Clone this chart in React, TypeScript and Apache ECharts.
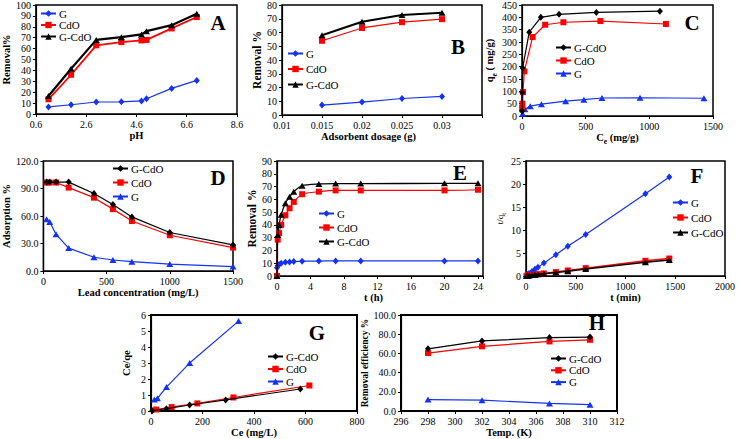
import React, { useEffect, useRef } from 'react';
import * as echarts from 'echarts';

// ---------- DATA ----------
// Panel A: effect of pH
const pHValues = [1.1, 2, 3, 4, 4.8, 5, 6, 7];
const A_G = [6.5, 8.5, 11, 11.2, 12, 14, 23.5, 30.8];
const A_CdO = [13.5, 36, 63, 66, 67.5, 68, 78.5, 89];
const A_GCdO = [16.5, 41.5, 68, 70.5, 73, 76, 81.5, 92];

// Panel B: adsorbent dosage
const dosage = [0.015, 0.02, 0.025, 0.03];
const B_G = [7.2, 9.4, 12, 13.5];
const B_CdO = [54, 63.3, 67.5, 69.7];
const B_GCdO = [58, 67.8, 72.8, 74.3];

// Panel C: isotherm qe vs Ce
const C_GCdO_x = [0.5, 2, 5, 57, 148, 291, 584, 1083];
const C_GCdO_y = [20, 95, 195, 340, 400, 412, 420, 425];
const C_CdO_x = [1, 3, 8, 18, 83, 182, 325, 616, 1130];
const C_CdO_y = [30, 50, 97, 181, 320, 370, 380, 385, 373];
const C_G_x = [5, 23, 65, 153, 343, 486, 628, 927, 1429];
const C_G_y = [9, 27, 40, 48, 60, 66, 73, 74, 72];

// Panel D: lead concentration
const leadConc = [25, 50, 100, 200, 400, 550, 700, 1000, 1500];
const D_GCdO = [97, 97, 97, 97, 84.5, 72.5, 59, 42, 28.5];
const D_CdO = [96.5, 96.5, 96.5, 91, 80, 67.5, 54.5, 39, 25.5];
const D_G = [56.5, 53.5, 40, 25, 15, 12, 10.2, 7.6, 4.8];

// Panel E: contact time (h)
const timeH = [0, 0.083, 0.25, 0.5, 1, 1.5, 2, 3, 5, 7, 10, 20, 24];
const E_G = [6.5, 8, 9, 10, 10.7, 11, 11.3, 11.6, 11.7, 11.8, 11.8, 11.8, 11.8];
const E_CdO = [0, 28.5, 33.5, 40, 47.5, 53, 58, 64, 66, 67, 67, 67, 67.5];
const E_GCdO = [0, 32, 40, 48, 57, 62, 66, 70.7, 72, 72.3, 72.3, 72.5, 72.5];

// Panel F: pseudo-second-order t/qt
const timeMin = [5, 15, 30, 60, 90, 120, 180, 300, 420, 600, 1200, 1440];
const F_G = [0.12, 0.3, 0.55, 1.0, 1.45, 1.9, 2.8, 4.6, 6.45, 9.0, 17.9, 21.5];
const F_CdO = [0.03, 0.07, 0.12, 0.22, 0.3, 0.4, 0.55, 0.85, 1.2, 1.7, 3.3, 3.8];
const F_GCdO = [0.03, 0.06, 0.1, 0.2, 0.28, 0.36, 0.5, 0.75, 1.05, 1.5, 3.0, 3.5];

// Panel G: Langmuir Ce/qe vs Ce
const G_GCdO_x = [5, 60, 150, 290, 580];
const G_GCdO_y = [0.02, 0.15, 0.38, 0.7, 1.38];
const G_CdO_x = [20, 80, 180, 320, 615];
const G_CdO_y = [0.1, 0.25, 0.48, 0.85, 1.6];
const G_G_x = [13, 25, 60, 150, 340];
const G_G_y = [0.72, 0.8, 1.5, 3.0, 5.62];

// Panel H: temperature
const temps = [298, 302, 307, 310];
const H_GCdO = [64.8, 73, 76.5, 77];
const H_CdO = [60.4, 67.4, 72.5, 74.2];
const H_G = [12, 11.4, 8, 6.7];

// ---------- STYLE / LAYOUT ----------
const FONT = '"Liberation Serif", "Times New Roman", serif';
const BLUE = '#1432f2';
const RED = '#ff0000';
const BLACK = '#000000';

const pair = (xs: number[], ys: number[]) => xs.map((x, i) => [x, ys[i]]);

type Kind = 'G' | 'CdO' | 'G-CdO';

const GRIDS = [
  { left: 32, top: 4, width: 205, height: 110, bw: 1.5 },   // A
  { left: 282, top: 4, width: 200, height: 111, bw: 1.5 },  // B
  { left: 522, top: 4, width: 191, height: 112, bw: 1.5 },  // C
  { left: 37, top: 161, width: 196, height: 110, bw: 1.5 }, // D
  { left: 277, top: 161, width: 206, height: 115, bw: 1.5 },// E
  { left: 526, top: 161, width: 203, height: 115, bw: 1.5 },// F
  { left: 151, top: 315, width: 206, height: 108, bw: 2 },  // G
  { left: 401, top: 315, width: 216, height: 99, bw: 2 },   // H
];

function series(panel: number, key: string, kind: Kind, data: number[][], opts: any = {}) {
  const shape = kind === 'G' ? opts.gSym : opts.gcdoSym;
  let symbol = 'rect';
  let symbolSize: any = 6;
  let color = RED;
  let width = opts.redW ?? 1.3;
  if (kind === 'G') {
    symbol = shape; color = BLUE; width = opts.blueW ?? 1;
  } else if (kind === 'G-CdO') {
    symbol = shape; color = BLACK; width = opts.blackW ?? 1.5;
  }
  if (symbol === 'diamond') symbolSize = [6, 7];
  if (symbol === 'triangle') symbolSize = [7, 6];
  if (symbol === 'rect') symbolSize = 6;
  return {
    type: 'line',
    name: key + '|' + kind,
    xAxisIndex: panel,
    yAxisIndex: panel,
    data,
    symbol,
    symbolSize,
    showSymbol: true,
    smooth: opts.smooth ? 0.25 : false,
    itemStyle: { color },
    lineStyle: { color, width },
    emphasis: { disabled: true },
    z: kind === 'G-CdO' ? 3 : kind === 'CdO' ? 2 : 1,
  };
}

function legend(key: string, kinds: Kind[], left: number, top: number, gap: number) {
  return {
    data: kinds.map((k) => key + '|' + k),
    orient: 'vertical',
    left,
    top,
    itemGap: gap,
    itemWidth: 15,
    itemHeight: 8,
    padding: 0,
    selectedMode: false,
    formatter: (n: string) => n.split('|')[1],
    textStyle: { fontFamily: FONT, fontSize: 11, color: '#000', lineHeight: 10, padding: [0, 0, 0, -2] },
  };
}

const plain = (v: number) => String(v);
const labelStyle = { fontFamily: FONT, fontSize: 10, color: '#000' };
const nameStyle = { fontFamily: FONT, fontSize: 10.5, fontWeight: 'bold', color: '#000' };
const lineCommon = { show: true, onZero: false, lineStyle: { color: '#000', width: 1.2 } };
const tickCommon = { show: true, inside: false, length: 3, lineStyle: { color: '#000', width: 1 } };

function xAxis(i: number, min: number, max: number, interval: number, name: any, nameGap: number, fmt: (v: number) => string = plain, extraName: any = {}) {
  return {
    type: 'value', gridIndex: i, min, max, interval,
    name, nameLocation: 'middle', nameGap,
    nameTextStyle: { ...nameStyle, ...extraName },
    axisLine: lineCommon, axisTick: tickCommon, splitLine: { show: false },
    axisLabel: { ...labelStyle, margin: 5, formatter: fmt, showMaxLabel: true, showMinLabel: true },
  };
}
function yAxis(i: number, min: number, max: number, interval: number, name: any, nameGap: number, fmt: (v: number) => string = plain, extraName: any = {}) {
  return {
    type: 'value', gridIndex: i, min, max, interval,
    name, nameLocation: 'middle', nameGap,
    nameTextStyle: { ...nameStyle, ...extraName },
    axisLine: lineCommon, axisTick: tickCommon, splitLine: { show: false },
    axisLabel: { ...labelStyle, margin: 5, formatter: fmt },
  };
}

const letters = [
  { t: 'A', x: 218, y: 23 },
  { t: 'B', x: 458, y: 47 },
  { t: 'C', x: 692, y: 23 },
  { t: 'D', x: 218, y: 178 },
  { t: 'E', x: 460, y: 173 },
  { t: 'F', x: 697, y: 176 },
  { t: 'G', x: 317, y: 333 },
  { t: 'H', x: 597, y: 323 },
];

export default function App() {
  const ref = useRef<HTMLDivElement>(null);
  useEffect(() => {
    if (!ref.current) return;
    const chart = echarts.init(ref.current, null, { renderer: 'svg' });
    const f1 = (v: number) => v.toFixed(1);
    const subRich = { sub: { fontFamily: FONT, fontSize: 7.5, fontWeight: 'bold', verticalAlign: 'bottom', padding: [0, 0, -3, 0] } };

    const option: any = {
      animation: false,
      backgroundColor: '#fff',
      grid: GRIDS.map((g) => ({
        left: g.left, top: g.top, width: g.width, height: g.height,
        show: true, borderColor: '#000', borderWidth: g.bw, backgroundColor: 'transparent', containLabel: false,
      })),
      xAxis: [
        xAxis(0, 0.6, 8.6, 2, 'pH', 16, f1),
        xAxis(1, 0.01, 0.035, 0.005, 'Adsorbent dosage (g)', 15, (v: number) => (v > 0.0345 ? '' : String(+v.toFixed(3))), { padding: [0, 27, 0, 0] }),
        xAxis(2, 0, 1500, 500, 'C{sub|e} (mg/g)', 9, plain, { rich: subRich }),
        xAxis(3, 0, 1500, 500, 'Lead concentration (mg/L)', 14),
        xAxis(4, 0, 24.6, 4, 't (h)', 14, (v: number) => (Math.abs(v % 4) < 1e-6 ? String(v) : ''), { padding: [0, 13, 0, 0] }),
        xAxis(5, 0, 2000, 500, 't (min)', 14),
        xAxis(6, 0, 800, 200, 'Ce (mg/L)', 9),
        xAxis(7, 296, 312, 2, 'Temp. (K)', 13),
      ],
      yAxis: [
        yAxis(0, 0, 100, 10, 'Removal%', 19),
        yAxis(1, 0, 80, 10, 'Removal %', 17, plain, { fontSize: 11.5 }),
        yAxis(2, 0, 450, 50, 'q{sub|e} ( mg/g)', 21, plain, { rich: subRich }),
        yAxis(3, 0, 120, 30, 'Adsorption %', 26, f1),
        yAxis(4, 0, 90, 10, 'Removal %', 17, plain, { fontSize: 11.5 }),
        yAxis(5, 0, 25, 5, 't/q{sub|t}', 15, plain, { fontWeight: 'normal', fontSize: 9, rich: { sub: { fontFamily: FONT, fontSize: 6.5, verticalAlign: 'bottom', padding: [0, 0, -3, 0] } } }),
        yAxis(6, 0, 6, 1, 'Ce/qe', 19),
        yAxis(7, 0, 100, 20, 'Removal efficiency %', 25, f1, { fontSize: 9.5 }),
      ],
      legend: [
        legend('A', ['G', 'CdO', 'G-CdO'], 40, 8, 0.5),
        legend('B', ['G', 'CdO', 'G-CdO'], 287, 48, 4.5),
        legend('C', ['G-CdO', 'CdO', 'G'], 555, 42, 2),
        legend('D', ['G-CdO', 'CdO', 'G'], 112, 163, 3),
        legend('E', ['G', 'CdO', 'G-CdO'], 318, 208, 3),
        legend('F', ['G', 'CdO', 'G-CdO'], 672, 197, 4),
        legend('G', ['G-CdO', 'CdO', 'G'], 267, 351, 1.5),
        legend('H', ['G-CdO', 'CdO', 'G'], 550, 353, 0.8),
      ],
      graphic: letters.map((l) => ({
        type: 'text', x: l.x, y: l.y, z: 100,
        style: { text: l.t, fontFamily: FONT, fontSize: 21, fontWeight: 'bold', fill: '#000', align: 'center', verticalAlign: 'middle' },
      })),
      series: [
        // A
        series(0, 'A', 'G', pair(pHValues, A_G), { gSym: 'diamond', gcdoSym: 'triangle', blueW: 1.2 }),
        series(0, 'A', 'CdO', pair(pHValues, A_CdO), { redW: 1.8 }),
        series(0, 'A', 'G-CdO', pair(pHValues, A_GCdO), { gSym: 'diamond', gcdoSym: 'triangle', blackW: 2.2 }),
        // B
        series(1, 'B', 'G', pair(dosage, B_G), { gSym: 'diamond', gcdoSym: 'triangle', blueW: 1.2 }),
        series(1, 'B', 'CdO', pair(dosage, B_CdO), { redW: 1.2 }),
        series(1, 'B', 'G-CdO', pair(dosage, B_GCdO), { gSym: 'diamond', gcdoSym: 'triangle', blackW: 2 }),
        // C
        series(2, 'C', 'G-CdO', pair(C_GCdO_x, C_GCdO_y), { gSym: 'triangle', gcdoSym: 'diamond', blackW: 1.2 }),
        series(2, 'C', 'CdO', pair(C_CdO_x, C_CdO_y), { redW: 1.2 }),
        series(2, 'C', 'G', pair(C_G_x, C_G_y), { gSym: 'triangle', gcdoSym: 'diamond', blueW: 1.2 }),
        // D
        series(3, 'D', 'G-CdO', pair(leadConc, D_GCdO), { gSym: 'triangle', gcdoSym: 'diamond', blackW: 1.2 }),
        series(3, 'D', 'CdO', pair(leadConc, D_CdO), { redW: 1.2 }),
        series(3, 'D', 'G', pair(leadConc, D_G), { gSym: 'triangle', gcdoSym: 'diamond', blueW: 1.2 }),
        // E
        series(4, 'E', 'G', pair(timeH, E_G), { gSym: 'diamond', gcdoSym: 'triangle', smooth: true, blueW: 1.2 }),
        series(4, 'E', 'CdO', pair(timeH, E_CdO), { smooth: true, redW: 1.2 }),
        series(4, 'E', 'G-CdO', pair(timeH, E_GCdO), { gSym: 'diamond', gcdoSym: 'triangle', smooth: true, blackW: 1.3 }),
        // F
        series(5, 'F', 'G', pair(timeMin, F_G), { gSym: 'diamond', gcdoSym: 'triangle', blueW: 1.2 }),
        series(5, 'F', 'CdO', pair(timeMin, F_CdO), { redW: 1.5 }),
        series(5, 'F', 'G-CdO', pair(timeMin, F_GCdO), { gSym: 'diamond', gcdoSym: 'triangle', blackW: 1.5 }),
        // G
        series(6, 'G', 'G-CdO', pair(G_GCdO_x, G_GCdO_y), { gSym: 'triangle', gcdoSym: 'diamond', blackW: 1.2 }),
        series(6, 'G', 'CdO', pair(G_CdO_x, G_CdO_y), { redW: 1.2 }),
        series(6, 'G', 'G', pair(G_G_x, G_G_y), { gSym: 'triangle', gcdoSym: 'diamond', blueW: 1.2 }),
        // H
        series(7, 'H', 'G-CdO', pair(temps, H_GCdO), { gSym: 'triangle', gcdoSym: 'diamond', blackW: 1.2 }),
        series(7, 'H', 'CdO', pair(temps, H_CdO), { redW: 1.2 }),
        series(7, 'H', 'G', pair(temps, H_G), { gSym: 'triangle', gcdoSym: 'diamond', blueW: 1.2 }),
      ],
    };
    chart.setOption(option);
    return () => chart.dispose();
  }, []);
  return <div ref={ref} style={{ position: 'absolute', left: 0, top: 0, width: 738, height: 439 }} />;
}
